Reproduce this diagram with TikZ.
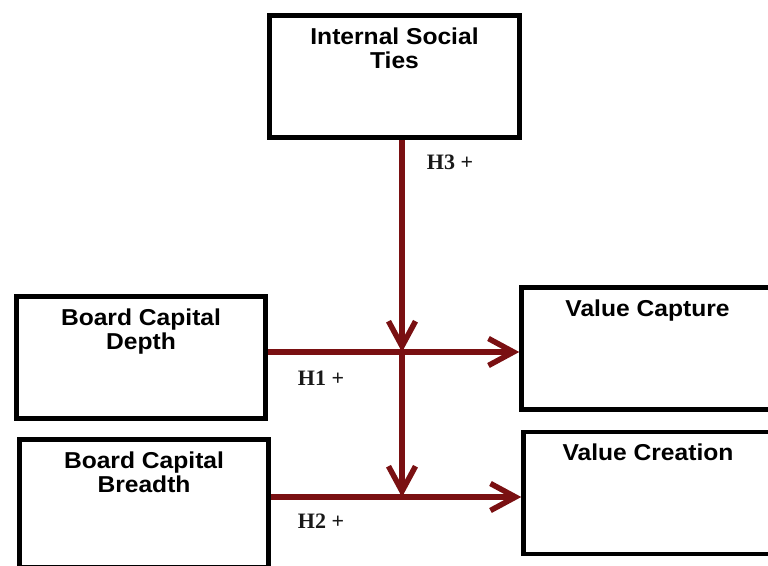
\documentclass[tikz,border=0pt]{standalone}
\usepackage{fontspec}
\setmainfont{Liberation Sans}
\newfontfamily\boxfont{Liberation Sans}[FakeStretch=1.07]
\newfontfamily\hfont{Liberation Serif}
\usetikzlibrary{arrows.meta}
\definecolor{arrowred}{RGB}{122,16,18}
\definecolor{hgray}{RGB}{25,25,25}
\newcommand{\bxtext}[3]{\parbox[c][#1][t]{#2}{\centering\vspace*{12pt}#3}}
\tikzset{
  box/.style={draw=black, line width=4.5pt, fill=white, inner sep=0pt,
    font=\boxfont\bfseries\fontsize{23}{24.5}\selectfont},
  conn/.style={draw=arrowred, line width=5.5pt,
    -{Straight Barb[length=25pt,width=27pt]}},
  hyp/.style={font=\hfont\bfseries\fontsize{22}{24}\selectfont, text=hgray, inner sep=0pt}
}
\begin{document}
\begin{tikzpicture}[x=1pt,y=-1pt]
\useasboundingbox (0,0) rectangle (768,565);
\clip (0,0) rectangle (768,565);
\node[box] (ist) at (394.5,76.5) {\bxtext{122pt}{250pt}{Internal Social\\Ties}};
\node[box] (depth) at (141,357.5) {\bxtext{122pt}{249pt}{Board Capital\\Depth}};
\node[box] (breadth) at (144,503.5) {\bxtext{128pt}{249pt}{Board Capital\\Breadth}};
\node[box] (capture) at (647.5,348.5) {\bxtext{122pt}{252pt}{Value Capture}};
\node[box] (creation) at (648,492.75) {\bxtext{122pt}{249pt}{Value Creation}};
\coordinate (j1) at (402,352);
\coordinate (j2) at (402,497);
\draw[conn] (ist.south -| j1) -- (j1);
\draw[conn] (j1) -- (j2);
\draw[conn] (depth.east |- j1) -- (capture.west |- j1);
\draw[conn] (breadth.east |- j2) -- (creation.west |- j2);
\node[hyp] (h3) at (450,162) {H3 +};
\node[hyp] (h1) at (321,378) {H1 +};
\node[hyp] (h2) at (321,521) {H2 +};
\end{tikzpicture}
\end{document}
